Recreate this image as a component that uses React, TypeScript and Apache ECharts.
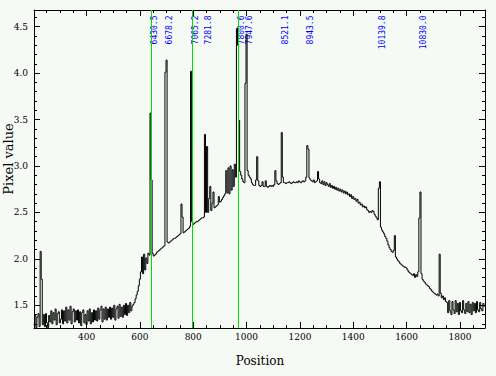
import React, { useEffect, useRef } from "react";
import * as echarts from "echarts";

// Spectrum sampled every 4 position units starting at 204
const xStart = 204;
const xStep = 4;

const valuesLeftBaseline = [
  1.28, 1.39, 1.26, 1.37, 1.41, 1.27,
  2.08, 1.78,
  1.29, 1.40, 1.27, 1.41, 1.31, 1.26, 1.39,
  1.32, 1.44, 1.30, 1.42, 1.34, 1.46, 1.29, 1.41, 1.43, 1.31,
  1.35, 1.45, 1.30, 1.44, 1.33, 1.48, 1.31, 1.45, 1.34, 1.49, 1.30, 1.43, 1.46, 1.32, 1.44, 1.34,
  1.45, 1.31, 1.43, 1.28, 1.42, 1.45, 1.31, 1.40, 1.29, 1.44, 1.33, 1.46, 1.30, 1.42, 1.32, 1.45, 1.34,
  1.44, 1.33, 1.47, 1.35, 1.45, 1.49, 1.32, 1.46, 1.35, 1.48, 1.34, 1.46, 1.37,
  1.48, 1.35, 1.47, 1.37, 1.50, 1.34, 1.46, 1.49, 1.36, 1.51, 1.38, 1.48, 1.37, 1.50,
  1.40, 1.52, 1.39, 1.50, 1.42, 1.53, 1.44,
];

const valuesRise = [
  1.49, 1.51, 1.53, 1.57, 1.61, 1.65, 1.71, 1.78, 1.86, 2.02, 1.84, 2.05, 1.88, 2.01, 1.95, 2.06, 2.04,
  3.57, 2.85, 2.06,
  2.03, 2.04, 2.05, 2.07, 2.08, 2.09, 2.10, 2.11, 2.12, 2.13, 2.14,
  4.01, 4.14,
  2.18, 2.17, 2.18, 2.19, 2.20, 2.21, 2.22, 2.22, 2.23, 2.24, 2.25, 2.26, 2.27,
  2.59, 2.45,
  2.28, 2.29, 2.30, 2.31, 2.32, 2.33, 2.35,
  4.02,
  2.40, 2.37, 2.38, 2.39, 2.40, 2.40, 2.41, 2.42, 2.43, 2.44, 2.44, 2.45,
  3.34, 2.50, 3.21, 2.50, 2.65, 2.78, 2.52, 2.60, 2.72, 2.55,
  2.56, 2.57, 2.58, 2.67, 2.61, 2.62, 2.64, 2.66, 2.68, 2.70,
  2.95, 2.71, 2.98, 2.70, 3.00, 2.74, 2.96, 2.78, 3.02, 2.88,
];

const valuesPlateau = [
  4.48, 4.30, 3.49, 2.94,
  2.90, 2.86, 2.83, 2.82,
  3.89, 4.42, 2.95,
  2.90, 2.88, 2.86, 2.82, 2.80, 2.79, 2.79,
  2.85, 3.10, 2.84,
  2.79, 2.78, 2.79, 2.83, 2.78, 2.78, 2.84, 2.78, 2.77, 2.78, 2.79, 2.78, 2.79, 2.78, 2.80,
  2.95, 2.84,
  2.81, 2.80, 2.81, 2.82,
  3.36, 2.88,
  2.82,
  2.82, 2.81, 2.82, 2.82, 2.83, 2.82, 2.81, 2.82, 2.83, 2.82, 2.82, 2.83, 2.82, 2.84, 2.83, 2.82, 2.83, 2.84, 2.83, 2.84,
];

const valuesDecline = [
  2.88, 3.22, 3.18,
  2.87, 2.85, 2.84, 2.83, 2.85, 2.82, 2.83, 2.84,
  2.94, 2.86,
  2.82, 2.81, 2.84, 2.80, 2.83, 2.79, 2.82, 2.80, 2.78, 2.81, 2.77, 2.79, 2.76, 2.78, 2.75, 2.77,
  2.74, 2.76, 2.73, 2.75, 2.72, 2.74, 2.71, 2.73, 2.70, 2.72, 2.69, 2.70, 2.67, 2.69, 2.65, 2.67,
  2.64, 2.65, 2.62, 2.64, 2.60, 2.61, 2.58, 2.59, 2.56, 2.57, 2.55, 2.56, 2.53, 2.52, 2.50, 2.51,
  2.50, 2.52, 2.51, 2.48, 2.46, 2.44, 2.42,
];

const valuesRightTail = [
  2.76, 2.83,
  2.34, 2.31, 2.29, 2.27, 2.24, 2.22, 2.19, 2.15, 2.12, 2.10, 2.08, 2.07, 2.09,
  2.25,
  2.02, 2.00, 1.98, 1.97, 1.95, 1.94, 1.93, 1.92, 1.91, 1.91, 1.90, 1.88, 1.86, 1.85, 1.84, 1.83,
  1.82, 1.84, 1.80, 1.83, 1.81, 1.86,
  2.44, 2.72,
  1.84, 1.78, 1.76, 1.75, 1.73, 1.72, 1.71, 1.70, 1.68, 1.67, 1.65, 1.64, 1.63, 1.62, 1.61, 1.62, 1.60,
  2.05,
  1.63, 1.58, 1.60, 1.56, 1.58, 1.54,
  1.53, 1.42, 1.55, 1.44, 1.40, 1.54, 1.45, 1.41, 1.55, 1.43, 1.52, 1.40, 1.53, 1.44, 1.42, 1.55,
  1.45, 1.41, 1.52, 1.43, 1.54, 1.42, 1.51, 1.40, 1.53, 1.44, 1.52, 1.42, 1.54, 1.45, 1.43, 1.53,
  1.46, 1.44, 1.52, 1.48,
];

const xMin = 203;
const xMax = 1894;
const yMin = 1.255;
const yMax = 4.68;

const xMajorTicks = [400, 600, 800, 1000, 1200, 1400, 1600, 1800];
const xMinorTicks = [
  250, 300, 350, 400, 450, 500, 550, 600, 650, 700, 750, 800, 850, 900, 950, 1000,
  1050, 1100, 1150, 1200, 1250, 1300, 1350, 1400, 1450, 1500, 1550, 1600, 1650,
  1700, 1750, 1800, 1850,
];
const yMajorTicks = [1.5, 2.0, 2.5, 3.0, 3.5, 4.0, 4.5];
const yMinorTicks = [
  1.3, 1.4, 1.5, 1.6, 1.7, 1.8, 1.9, 2.0, 2.1, 2.2, 2.3, 2.4, 2.5, 2.6, 2.7, 2.8, 2.9,
  3.0, 3.1, 3.2, 3.3, 3.4, 3.5, 3.6, 3.7, 3.8, 3.9, 4.0, 4.1, 4.2, 4.3, 4.4, 4.5, 4.6,
];

const markerLinesX = [643, 796, 970];
const lineIdX = [642, 698, 796, 846, 968, 1001, 1133, 1227, 1497, 1653];
const lineIdLabels = [
  "6430.5", "6678.2", "7065.2", "7281.8", "7800.6", "7947.6",
  "8521.1", "8943.5", "10139.8", "10830.0",
];

const BG = "#f5faf5";

export default function App() {
  const ref = useRef<HTMLDivElement>(null);

  useEffect(() => {
    if (!ref.current) return;
    const chart = echarts.init(ref.current, undefined, { renderer: "svg" });

    const pixelValues = [
      ...valuesLeftBaseline,
      ...valuesRise,
      ...valuesPlateau,
      ...valuesDecline,
      ...valuesRightTail,
    ];
    const seriesData = pixelValues.map((v, i) => [xStart + i * xStep, v]);

    const axisFont = { fontFamily: "DejaVu Serif", fontSize: 9, color: "#000" };
    const blackLine = { color: "#000", width: 1 };

    const makeX = (position: string, ticks: number[], len: number, withLabel: boolean, withLine: boolean) => ({
      type: "value",
      position,
      min: xMin,
      max: xMax,
      axisLine: { show: withLine, onZero: false, lineStyle: blackLine },
      axisTick: { show: true, inside: true, length: len, customValues: ticks, lineStyle: blackLine },
      axisLabel: withLabel
        ? {
            show: true,
            customValues: ticks,
            margin: 4,
            formatter: (v: number) => String(v),
            ...axisFont,
          }
        : { show: false },
      splitLine: { show: false },
      minorTick: { show: false },
    });
    const makeY = (position: string, ticks: number[], len: number, withLabel: boolean, withLine: boolean) => ({
      type: "value",
      position,
      min: yMin,
      max: yMax,
      axisLine: { show: withLine, onZero: false, lineStyle: blackLine },
      axisTick: { show: true, inside: true, length: len, customValues: ticks, lineStyle: blackLine },
      axisLabel: withLabel
        ? {
            show: true,
            customValues: ticks,
            margin: 6,
            formatter: (v: number) => v.toFixed(1),
            ...axisFont,
          }
        : { show: false },
      splitLine: { show: false },
      minorTick: { show: false },
    });

    chart.setOption({
      animation: false,
      backgroundColor: BG,
      grid: { left: 34, right: 11, top: 10, bottom: 48, containLabel: false },
      xAxis: [
        makeX("bottom", xMajorTicks, 6, true, true),
        makeX("bottom", xMinorTicks, 3, false, false),
        makeX("top", xMajorTicks, 6, false, true),
        makeX("top", xMinorTicks, 3, false, false),
      ],
      yAxis: [
        makeY("left", yMajorTicks, 6, true, true),
        makeY("left", yMinorTicks, 3, false, false),
        makeY("right", yMajorTicks, 6, false, true),
        makeY("right", yMinorTicks, 3, false, false),
      ],
      series: [
        {
          type: "line",
          xAxisIndex: 0,
          yAxisIndex: 0,
          data: seriesData,
          step: "middle",
          showSymbol: false,
          symbol: "none",
          silent: true,
          lineStyle: { color: "#000", width: 1 },
          markLine: {
            silent: true,
            symbol: ["none", "none"],
            label: { show: false },
            lineStyle: { color: "#00e000", width: 1, type: "solid" },
            data: markerLinesX.map((x) => ({ xAxis: x })),
          },
        },
      ],
    });

    const labelEls = lineIdX.map((x, k) => {
      const p = chart.convertToPixel({ xAxisIndex: 0, yAxisIndex: 0 }, [x, yMax]) as number[];
      return {
        type: "text",
        x: p[0] + 3,
        y: p[1] + 5.5,
        rotation: Math.PI / 2,
        silent: true,
        style: {
          text: lineIdLabels[k],
          fill: "#0000ff",
          font: '8px "DejaVu Sans Mono"',
          align: "right",
          verticalAlign: "middle",
          textAlign: "right",
          textVerticalAlign: "middle",
        },
      };
    });

    chart.setOption({
      graphic: [
        {
          type: "text",
          x: 260,
          y: 361,
          silent: true,
          style: {
            text: "Position",
            fill: "#000",
            font: '12px "DejaVu Serif"',
            align: "center",
            verticalAlign: "middle",
            textAlign: "center",
            textVerticalAlign: "middle",
          },
        },
        {
          type: "text",
          x: 8,
          y: 159,
          rotation: Math.PI / 2,
          silent: true,
          style: {
            text: "Pixel value",
            fill: "#000",
            font: '13px "DejaVu Serif"',
            align: "center",
            verticalAlign: "middle",
            textAlign: "center",
            textVerticalAlign: "middle",
          },
        },
        ...labelEls,
      ],
    });

    return () => chart.dispose();
  }, []);

  return (
    <div
      ref={ref}
      style={{ position: "fixed", left: 0, top: 0, width: 496, height: 376, background: BG }}
    />
  );
}
